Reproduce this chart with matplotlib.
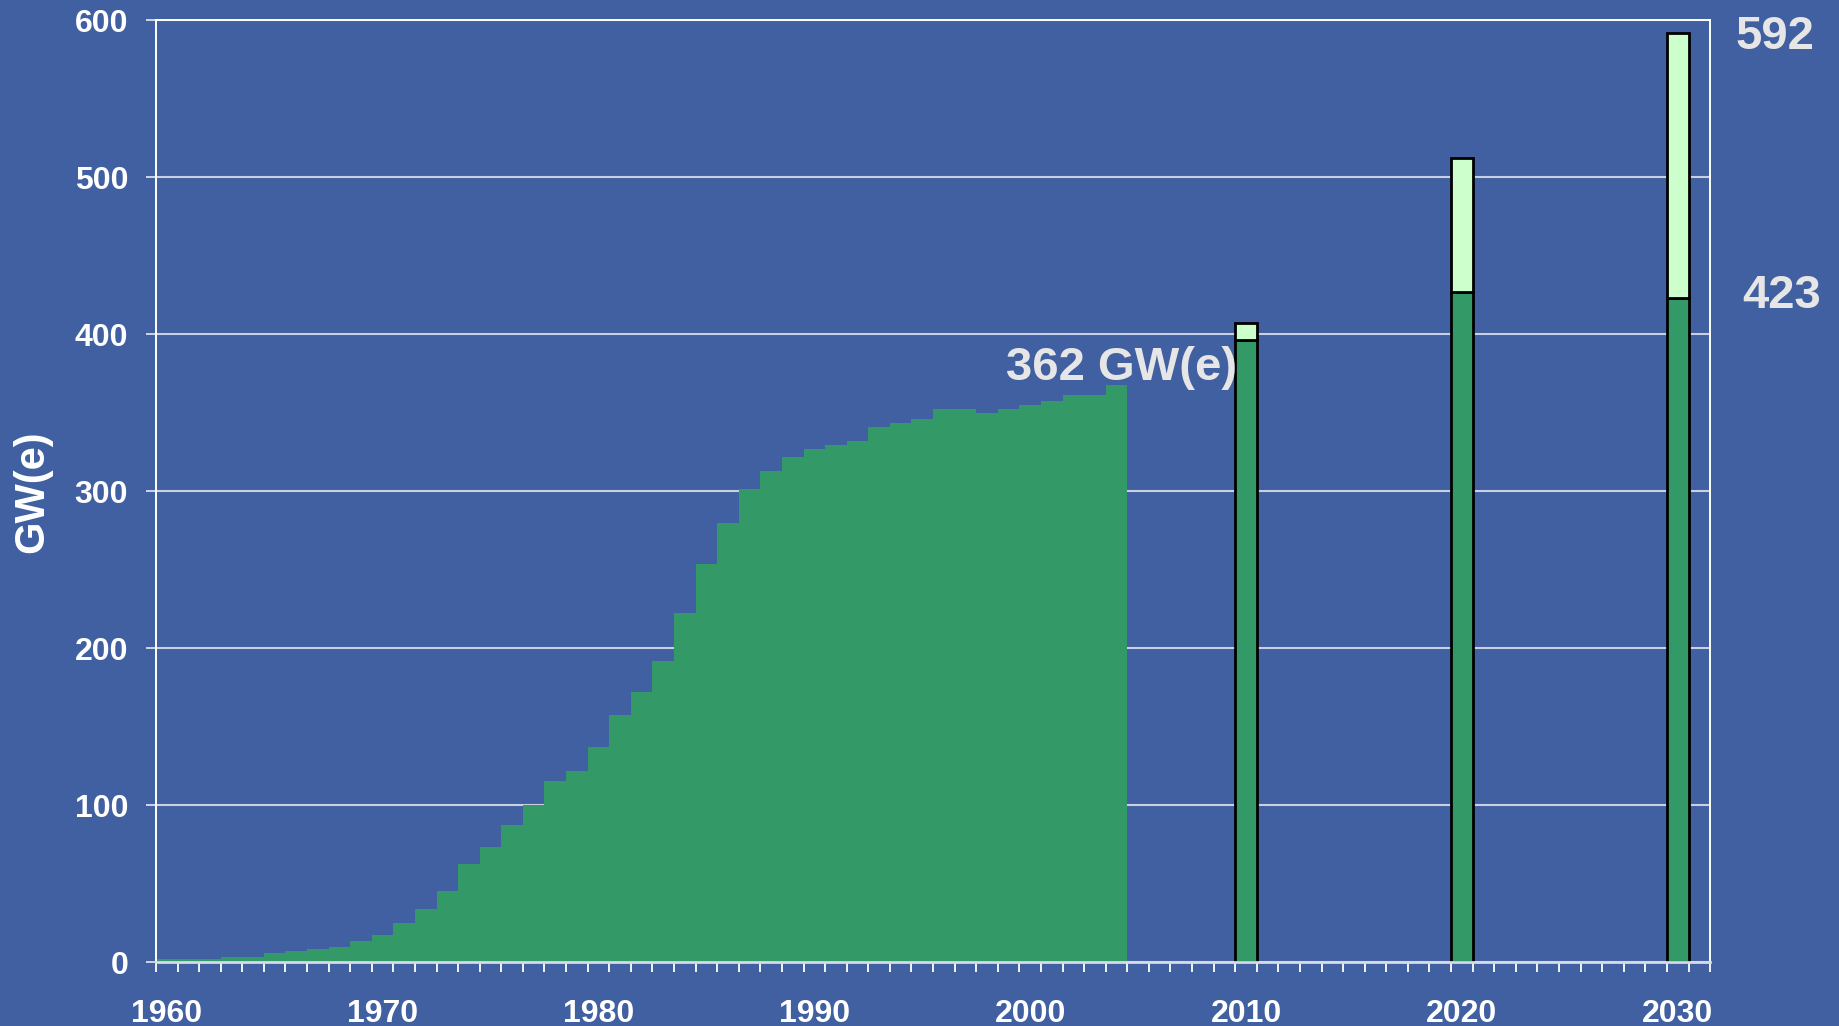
"""
World nuclear generating capacity, history and projections.
"""

import numpy as np
import matplotlib.pyplot as plt

plt.rcParams["font.family"] = ["Liberation Sans", "DejaVu Sans"]
plt.rcParams["font.weight"] = "bold"

# historical capacity, GW(e), one value per year 1960..2004
hist_years = list(range(1960, 2005))
hist_gw = [
    2, 2, 2, 3.5, 3.5, 6, 7.3, 8.6, 10, 13.7,
    17.5, 25, 34, 45.5, 63, 73.5, 87.5, 100, 115.5, 122,
    137, 157.5, 172.5, 192, 222.5, 254, 280, 301.5, 313, 322,
    327, 329.5, 332, 341, 343.5, 346, 352.5, 352.5, 350, 352.5,
    355, 357.5, 361, 361, 367.5,
]

# projections: low and high estimates
proj_years = [2010, 2020, 2030]
proj_low = [396, 427, 423]
proj_high = [407, 512, 592]

decades = [1960, 1970, 1980, 1990, 2000, 2010, 2020, 2030]
yticks = [0, 100, 200, 300, 400, 500, 600]

BG = "#4160a1"
GREEN = "#339966"
LIGHT = "#ccffcc"
TXT = "#e6e6e6"

fig = plt.figure(figsize=(18.39, 10.26), dpi=100, facecolor=BG)
ax = fig.add_axes([0.0848, 0.0619, 0.8451, 0.9186], facecolor=BG)

ax.bar(hist_years, hist_gw, width=1.0, color=GREEN, linewidth=0, zorder=2)

high_part = [h - l for h, l in zip(proj_high, proj_low)]
ax.bar(proj_years, proj_low, width=1.0, color=GREEN, edgecolor="black", linewidth=2, zorder=3)
ax.bar(proj_years, high_part, bottom=proj_low, width=1.0, color=LIGHT,
       edgecolor="black", linewidth=2, zorder=3)

ax.set_xlim(1959.5, 2031.5)
ax.set_ylim(0, 600)

# decade labels without marks, one mark per year boundary
ax.set_xticks(decades)
ax.set_xticklabels([str(d) for d in decades])
ax.set_xticks(np.arange(1959.5, 2032, 1.0), minor=True)
ax.tick_params(axis="x", which="major", length=0, pad=26, labelsize=23, labelcolor="white")
ax.tick_params(axis="x", which="minor", length=7, width=1.3, color="white", direction="out")

ax.set_yticks(yticks)
ax.tick_params(axis="y", length=7, width=1.3, color="#d8deea", pad=13, labelsize=23,
               labelcolor="white")

ax.yaxis.grid(True, color="#c9d0e2", linewidth=1.5, zorder=1)
ax.set_axisbelow(True)

for side in ["left", "top", "right"]:
    ax.spines[side].set_color("white")
    ax.spines[side].set_linewidth(1.4)
ax.spines["bottom"].set_color("#d4dae8")
ax.spines["bottom"].set_linewidth(2)
ax.spines["bottom"].set_zorder(4)

ax.set_ylabel("GW(e)", fontsize=30, fontweight="bold", color="white", labelpad=16)

ax.text(1998.9, 371, "362 GW(e)", fontsize=34, color=TXT, ha="left", va="baseline", zorder=5)
ax.text(2034.5, 589, "592", fontsize=34, color=TXT, ha="center", va="center", clip_on=False)
ax.text(2034.8, 424.5, "423", fontsize=34, color=TXT, ha="center", va="center", clip_on=False)

fig.savefig("out.png", dpi=100, facecolor=BG)
